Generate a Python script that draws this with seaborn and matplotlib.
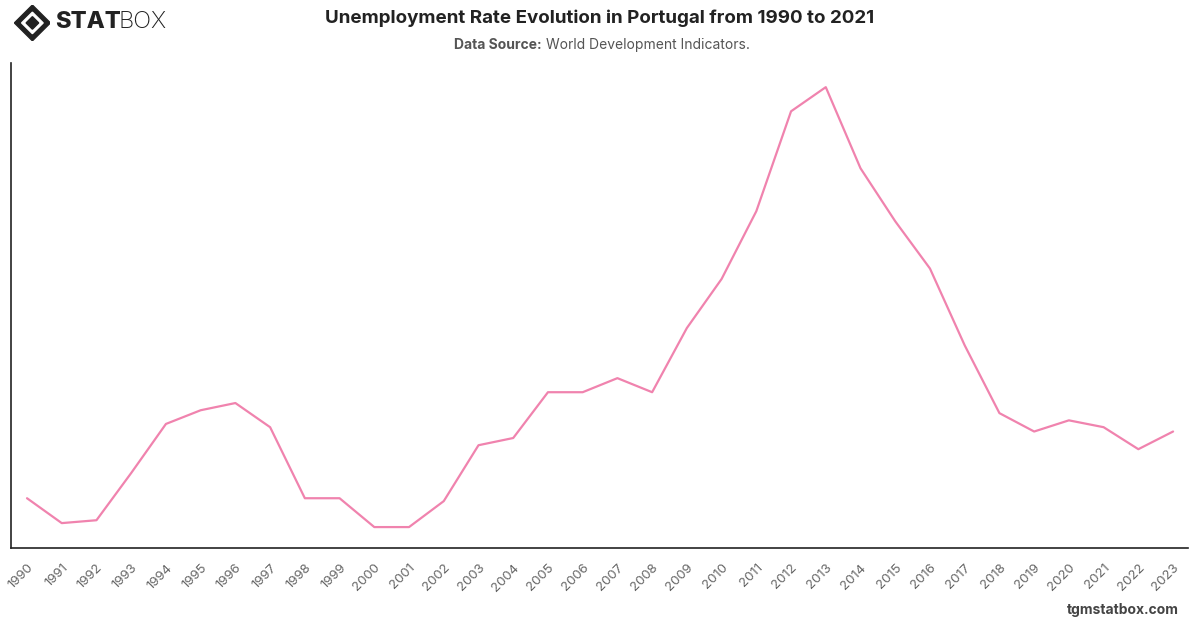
import matplotlib.pyplot as plt
import matplotlib.patches as mpatches
import pandas as pd
import seaborn as sns

years = list(range(1990, 2024))
unemployment = [
    4.80, 4.11, 4.19, 5.50, 6.86, 7.24, 7.44, 6.77, 4.80, 4.80,
    4.00, 4.00, 4.72, 6.27, 6.47, 7.74, 7.74, 8.13, 7.74, 9.52,
    10.88, 12.76, 15.53, 16.20, 13.95, 12.48, 11.17, 9.04, 7.16, 6.65,
    6.96, 6.77, 6.16, 6.65,
]
tick_labels = [str(y) for y in years]

LINE_COLOR = "#f083ae"

sns.set_style("white")
plt.rcParams["font.family"] = ["Inter", "DejaVu Sans"]

df = pd.DataFrame({"year": years, "rate": unemployment})

fig = plt.figure(figsize=(12, 6.28), dpi=100)
ax = fig.add_axes([0.0092, 0.1274, 0.9808, 0.7723])

sns.lineplot(data=df, x="year", y="rate", ax=ax, color=LINE_COLOR, linewidth=1.6)

ax.set_xlim(1989.54, 2023.43)
ax.set_ylim(3.42, 16.87)
ax.set_xticks(years)
ax.set_xticklabels(tick_labels, rotation=45, ha="right", rotation_mode="anchor",
                   fontsize=9.5, color="#666666")
ax.tick_params(axis="x", length=0, pad=10)
ax.set_yticks([])
ax.set_xlabel("")
ax.set_ylabel("")
for side in ["top", "right"]:
    ax.spines[side].set_visible(False)
for side in ["left", "bottom"]:
    ax.spines[side].set_color("#222222")
    ax.spines[side].set_linewidth(1.2)

# title block
fig.text(0.5, 0.971, "Unemployment Rate Evolution in Portugal from 1990 to 2021",
         ha="center", va="center", fontsize=13.5, fontweight="bold", color="#222222")
fig.text(0.378, 0.929, "Data Source:", ha="left", va="center",
         fontsize=10, fontweight="bold", color="#555555")
fig.text(0.455, 0.929, "World Development Indicators.", ha="left", va="center",
         fontsize=10, color="#555555")

# logo
logo_ax = fig.add_axes([0.012, 0.935, 0.03, 0.057])
logo_ax.set_xlim(-1, 1)
logo_ax.set_ylim(-1, 1)
logo_ax.axis("off")
logo_ax.add_patch(mpatches.Polygon([[0, 1], [1, 0], [0, -1], [-1, 0]],
                                   closed=True, color="#222222"))
logo_ax.add_patch(mpatches.Polygon([[0, 0.6], [0.6, 0], [0, -0.6], [-0.6, 0]],
                                   closed=True, color="white"))
logo_ax.add_patch(mpatches.Polygon([[0, 0.35], [0.35, 0], [0, -0.35], [-0.35, 0]],
                                   closed=True, color="#222222"))
fig.text(0.046, 0.965, "STAT", ha="left", va="center", fontsize=17,
         fontweight="heavy", color="#222222")
fig.text(0.0985, 0.965, "BOX", ha="left", va="center", fontsize=17,
         fontweight="light", color="#222222")

# footer
fig.text(0.982, 0.028, "tgmstatbox.com", ha="right", va="center",
         fontsize=10, fontweight="bold", color="#444444")

fig.savefig("out.png", dpi=100)
